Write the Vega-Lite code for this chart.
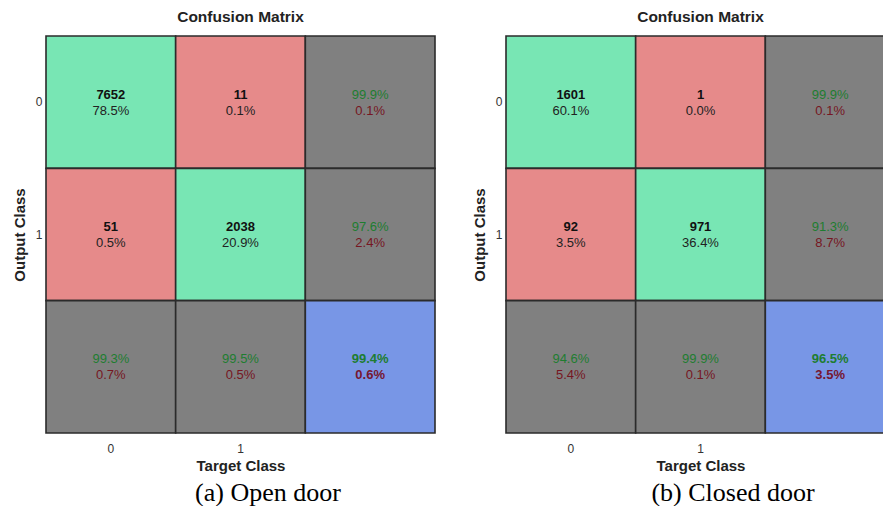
{
  "$schema": "https://vega.github.io/schema/vega-lite/v6.json",
  "background": "white",
  "padding": {"left": 12, "top": 9, "right": 0, "bottom": 0},
  "config": {
    "view": {"stroke": null},
    "font": "Liberation Sans",
    "axis": {
      "ticks": false, "domain": false, "grid": false,
      "labelFont": "Liberation Sans", "labelFontSize": 12, "labelColor": "#333",
      "titleFont": "Liberation Sans", "titleFontSize": 15, "titleFontWeight": "bold", "titleColor": "#222",
      "labelAngle": 0,
      "labelExpr": "datum.value == 'all' ? '' : datum.value"
    },
    "axisX": {"labelPadding": 10, "titlePadding": 4},
    "axisY": {"labelPadding": 4, "titlePadding": 8}
  },
  "datasets": {
    "a": [
      {"target": "0", "output": "0", "kind": "correct", "top": "7652", "bottom": "78.5%"},
      {"target": "1", "output": "0", "kind": "wrong", "top": "11", "bottom": "0.1%"},
      {"target": "all", "output": "0", "kind": "summary", "top": "99.9%", "bottom": "0.1%"},
      {"target": "0", "output": "1", "kind": "wrong", "top": "51", "bottom": "0.5%"},
      {"target": "1", "output": "1", "kind": "correct", "top": "2038", "bottom": "20.9%"},
      {"target": "all", "output": "1", "kind": "summary", "top": "97.6%", "bottom": "2.4%"},
      {"target": "0", "output": "all", "kind": "summary", "top": "99.3%", "bottom": "0.7%"},
      {"target": "1", "output": "all", "kind": "summary", "top": "99.5%", "bottom": "0.5%"},
      {"target": "all", "output": "all", "kind": "overall", "top": "99.4%", "bottom": "0.6%"}
    ],
    "b": [
      {"target": "0", "output": "0", "kind": "correct", "top": "1601", "bottom": "60.1%"},
      {"target": "1", "output": "0", "kind": "wrong", "top": "1", "bottom": "0.0%"},
      {"target": "all", "output": "0", "kind": "summary", "top": "99.9%", "bottom": "0.1%"},
      {"target": "0", "output": "1", "kind": "wrong", "top": "92", "bottom": "3.5%"},
      {"target": "1", "output": "1", "kind": "correct", "top": "971", "bottom": "36.4%"},
      {"target": "all", "output": "1", "kind": "summary", "top": "91.3%", "bottom": "8.7%"},
      {"target": "0", "output": "all", "kind": "summary", "top": "94.6%", "bottom": "5.4%"},
      {"target": "1", "output": "all", "kind": "summary", "top": "99.9%", "bottom": "0.1%"},
      {"target": "all", "output": "all", "kind": "overall", "top": "96.5%", "bottom": "3.5%"}
    ]
  },
  "spacing": 36,
  "hconcat": [
    {
      "title": {"text": "(a) Open door", "orient": "bottom", "font": "Liberation Serif", "fontSize": 26, "fontWeight": "normal", "color": "#000", "anchor": "middle", "frame": "group", "dx": 222, "offset": 7},
      "vconcat": [
        {
          "title": {"text": "Confusion Matrix", "anchor": "middle", "frame": "group", "font": "Liberation Sans", "fontSize": 15.5, "fontWeight": "bold", "color": "#222", "offset": 10},
          "width": 389,
          "height": 397,
          "data": {"name": "a"},
          "encoding": {
            "x": {"field": "target", "type": "ordinal", "sort": ["0", "1", "all"], "scale": {"paddingInner": 0, "paddingOuter": 0}, "axis": {"title": "Target Class"}},
            "y": {"field": "output", "type": "ordinal", "sort": ["0", "1", "all"], "scale": {"paddingInner": 0, "paddingOuter": 0}, "axis": {"title": "Output Class"}}
          },
          "layer": [
            {"mark": {"type": "rect", "stroke": "#2b2b2b", "strokeWidth": 1.6},
             "encoding": {"color": {"field": "kind", "type": "nominal", "scale": {"domain": ["correct", "wrong", "summary", "overall"], "range": ["#78E6B4", "#E68A8A", "#808080", "#7896E6"]}, "legend": null}}},
            {"transform": [{"filter": "datum.kind == 'correct' || datum.kind == 'wrong'"}],
             "mark": {"type": "text", "dy": -7.5, "fontSize": 13, "fontWeight": "bold", "color": "#111", "baseline": "middle"},
             "encoding": {"text": {"field": "top"}}},
            {"transform": [{"filter": "datum.kind == 'correct' || datum.kind == 'wrong'"}],
             "mark": {"type": "text", "dy": 8.5, "fontSize": 13, "color": "#222", "baseline": "middle"},
             "encoding": {"text": {"field": "bottom"}}},
            {"transform": [{"filter": "datum.kind == 'summary'"}],
             "mark": {"type": "text", "dy": -7.5, "fontSize": 13, "color": "#1e7d30", "baseline": "middle"},
             "encoding": {"text": {"field": "top"}}},
            {"transform": [{"filter": "datum.kind == 'summary'"}],
             "mark": {"type": "text", "dy": 8.5, "fontSize": 13, "color": "#761622", "baseline": "middle"},
             "encoding": {"text": {"field": "bottom"}}},
            {"transform": [{"filter": "datum.kind == 'overall'"}],
             "mark": {"type": "text", "dy": -7.5, "fontSize": 13, "fontWeight": "bold", "color": "#1e7d30", "baseline": "middle"},
             "encoding": {"text": {"field": "top"}}},
            {"transform": [{"filter": "datum.kind == 'overall'"}],
             "mark": {"type": "text", "dy": 8.5, "fontSize": 13, "fontWeight": "bold", "color": "#761630", "baseline": "middle"},
             "encoding": {"text": {"field": "bottom"}}}
          ]
        }
      ]
    },
    {
      "title": {"text": "(b) Closed door", "orient": "bottom", "font": "Liberation Serif", "fontSize": 26, "fontWeight": "normal", "color": "#000", "anchor": "middle", "frame": "group", "dx": 227, "offset": 7},
      "vconcat": [
        {
          "title": {"text": "Confusion Matrix", "anchor": "middle", "frame": "group", "font": "Liberation Sans", "fontSize": 15.5, "fontWeight": "bold", "color": "#222", "offset": 10},
          "width": 389,
          "height": 397,
          "data": {"name": "b"},
          "encoding": {
            "x": {"field": "target", "type": "ordinal", "sort": ["0", "1", "all"], "scale": {"paddingInner": 0, "paddingOuter": 0}, "axis": {"title": "Target Class"}},
            "y": {"field": "output", "type": "ordinal", "sort": ["0", "1", "all"], "scale": {"paddingInner": 0, "paddingOuter": 0}, "axis": {"title": "Output Class"}}
          },
          "layer": [
            {"mark": {"type": "rect", "stroke": "#2b2b2b", "strokeWidth": 1.6},
             "encoding": {"color": {"field": "kind", "type": "nominal", "scale": {"domain": ["correct", "wrong", "summary", "overall"], "range": ["#78E6B4", "#E68A8A", "#808080", "#7896E6"]}, "legend": null}}},
            {"transform": [{"filter": "datum.kind == 'correct' || datum.kind == 'wrong'"}],
             "mark": {"type": "text", "dy": -7.5, "fontSize": 13, "fontWeight": "bold", "color": "#111", "baseline": "middle"},
             "encoding": {"text": {"field": "top"}}},
            {"transform": [{"filter": "datum.kind == 'correct' || datum.kind == 'wrong'"}],
             "mark": {"type": "text", "dy": 8.5, "fontSize": 13, "color": "#222", "baseline": "middle"},
             "encoding": {"text": {"field": "bottom"}}},
            {"transform": [{"filter": "datum.kind == 'summary'"}],
             "mark": {"type": "text", "dy": -7.5, "fontSize": 13, "color": "#1e7d30", "baseline": "middle"},
             "encoding": {"text": {"field": "top"}}},
            {"transform": [{"filter": "datum.kind == 'summary'"}],
             "mark": {"type": "text", "dy": 8.5, "fontSize": 13, "color": "#761622", "baseline": "middle"},
             "encoding": {"text": {"field": "bottom"}}},
            {"transform": [{"filter": "datum.kind == 'overall'"}],
             "mark": {"type": "text", "dy": -7.5, "fontSize": 13, "fontWeight": "bold", "color": "#1e7d30", "baseline": "middle"},
             "encoding": {"text": {"field": "top"}}},
            {"transform": [{"filter": "datum.kind == 'overall'"}],
             "mark": {"type": "text", "dy": 8.5, "fontSize": 13, "fontWeight": "bold", "color": "#761630", "baseline": "middle"},
             "encoding": {"text": {"field": "bottom"}}}
          ]
        }
      ]
    }
  ]
}
